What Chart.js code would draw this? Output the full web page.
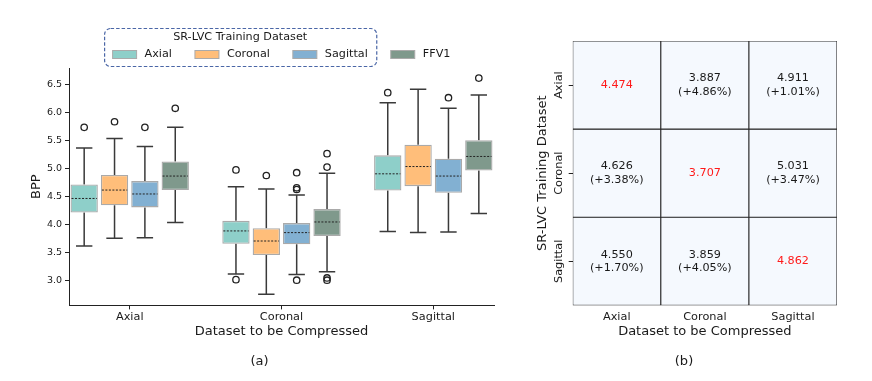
<!DOCTYPE html>
<html>
<head>
<meta charset="utf-8">
<script src="https://cdn.jsdelivr.net/npm/chart.js@4.4.1/dist/chart.umd.min.js"></script>
<style>
  body { margin: 0; background: #fff; }
  #left { position: absolute; left: 0; top: 0; }
  #right { position: absolute; left: 520px; top: 0; }
</style>
</head>
<body>
<canvas id="left" width="520" height="381"></canvas>
<canvas id="right" width="352" height="381"></canvas>
<script>
// (a) box plots: compressed dataset on x, one box per training dataset
const groups = ['Axial', 'Coronal', 'Sagittal'];
const series = ['Axial', 'Coronal', 'Sagittal', 'FFV1'];
const dodge = [-0.3, -0.1, 0.1, 0.3];
const whiskLo = [[3.62, 3.12, 3.88], [3.76, 2.76, 3.86], [3.77, 3.11, 3.87], [4.04, 3.16, 4.20]];
const q1      = [[4.22, 3.66, 4.61], [4.35, 3.46, 4.69], [4.31, 3.65, 4.57], [4.62, 3.80, 4.97]];
const median  = [[4.47, 3.89, 4.91], [4.62, 3.71, 5.04], [4.55, 3.86, 4.87], [4.87, 4.05, 5.22]];
const q3      = [[4.72, 4.07, 5.24], [4.89, 3.94, 5.43], [4.78, 4.03, 5.18], [5.13, 4.28, 5.51]];
const whiskHi = [[5.37, 4.68, 6.18], [5.54, 4.64, 6.42], [5.40, 4.53, 6.08], [5.74, 4.92, 6.32]];
const outliers = [
  [[5.74], [4.98, 3.02], [6.36]],
  [[5.84], [4.88], []],
  [[5.74], [4.93, 4.66, 4.63, 3.01], [6.27]],
  [[6.08], [5.27, 5.03, 3.05, 3.01], [6.62]]
];
const yTicks = [3.0, 3.5, 4.0, 4.5, 5.0, 5.5, 6.0, 6.5];
const boxColors = ['#8ecfc9', '#ffbe7a', '#82b0d2', '#7f998c'];

// (b) mean BPP table: rows = training dataset, cols = compressed dataset
const trainSets = ['Axial', 'Coronal', 'Sagittal'];
const bppMatrix = [[4.474, 3.887, 4.911], [4.626, 3.707, 5.031], [4.550, 3.859, 4.862]];
const gainMatrix = [[null, 4.86, 1.01], [3.38, null, 3.47], [1.70, 4.05, null]];

Chart.defaults.font.family = "'DejaVu Sans', sans-serif";
Chart.defaults.color = '#1a1a1a';

const boxParts = {
  id: 'boxParts',
  beforeDatasetsDraw(chart) {
    const ctx = chart.ctx, y = chart.scales.y;
    ctx.save();
    ctx.strokeStyle = '#3a3a3a';
    ctx.lineWidth = 1.5;
    series.forEach((s, si) => {
      chart.getDatasetMeta(si).data.forEach((bar, gi) => {
        const half = bar.width * 0.3;
        const yHi = y.getPixelForValue(whiskHi[si][gi]);
        const yLo = y.getPixelForValue(whiskLo[si][gi]);
        ctx.beginPath();
        ctx.moveTo(bar.x, y.getPixelForValue(q3[si][gi]));
        ctx.lineTo(bar.x, yHi);
        ctx.moveTo(bar.x - half, yHi);
        ctx.lineTo(bar.x + half, yHi);
        ctx.moveTo(bar.x, y.getPixelForValue(q1[si][gi]));
        ctx.lineTo(bar.x, yLo);
        ctx.moveTo(bar.x - half, yLo);
        ctx.lineTo(bar.x + half, yLo);
        ctx.stroke();
      });
    });
    ctx.restore();
  },
  afterDatasetsDraw(chart) {
    const ctx = chart.ctx, y = chart.scales.y;
    ctx.save();
    ctx.strokeStyle = '#222';
    ctx.lineWidth = 1;
    ctx.setLineDash([2, 1.5]);
    series.forEach((s, si) => {
      chart.getDatasetMeta(si).data.forEach((bar, gi) => {
        const ym = y.getPixelForValue(median[si][gi]);
        ctx.beginPath();
        ctx.moveTo(bar.x - bar.width / 2 + 1, ym);
        ctx.lineTo(bar.x + bar.width / 2 - 1, ym);
        ctx.stroke();
      });
    });
    ctx.restore();
  }
};

const boxLegend = {
  id: 'boxLegend',
  afterDraw(chart) {
    const ctx = chart.ctx;
    const sets = chart.data.datasets.filter(d => d.type !== 'scatter');
    const sw = 24, gap = 8, space = 23, yItem = 54.5, yTitle = 37.5;
    ctx.save();
    ctx.font = "11.2px 'DejaVu Sans'";
    const widths = sets.map(d => sw + gap + ctx.measureText(d.label).width);
    const total = widths.reduce((a, b) => a + b, 0) + space * (sets.length - 1);
    let x = (chart.chartArea.left + chart.chartArea.right) / 2 - total / 2;
    const starts = [];
    sets.forEach((d, i) => {
      starts.push(x);
      ctx.fillStyle = d.backgroundColor;
      ctx.fillRect(x, yItem - 4, sw, 8);
      ctx.strokeStyle = '#aaaaaa';
      ctx.lineWidth = 1;
      ctx.strokeRect(x, yItem - 4, sw, 8);
      ctx.fillStyle = '#1a1a1a';
      ctx.textAlign = 'left';
      ctx.textBaseline = 'middle';
      ctx.fillText(d.label, x + sw + gap, yItem);
      x += widths[i] + space;
    });
    const bx0 = starts[0] - 8;
    const bx1 = starts[2] + widths[2] + 9;
    ctx.textAlign = 'center';
    ctx.fillText('SR-LVC Training Dataset', (starts[0] + starts[2] + widths[2]) / 2, yTitle);
    ctx.strokeStyle = '#4a66a6';
    ctx.lineWidth = 1.2;
    ctx.setLineDash([3.5, 2]);
    ctx.beginPath();
    ctx.roundRect(bx0, 28.5, bx1 - bx0, 38, 6);
    ctx.stroke();
    ctx.restore();
  }
};

const outlierPoints = [];
series.forEach((s, si) => groups.forEach((g, gi) => {
  outliers[si][gi].forEach(v => outlierPoints.push({ x: gi + dodge[si], y: v }));
}));

new Chart(document.getElementById('left'), {
  type: 'bar',
  data: {
    datasets: series.map((s, si) => ({
      label: s,
      data: groups.map((g, gi) => ({ x: gi + dodge[si], y: [q1[si][gi], q3[si][gi]] })),
      backgroundColor: boxColors[si],
      borderColor: '#aaaaaa',
      borderWidth: 1.3,
      borderSkipped: false,
      grouped: false,
      barPercentage: 0.9,
      categoryPercentage: 1
    })).concat([{
      type: 'scatter',
      label: 'outliers',
      data: outlierPoints,
      pointStyle: 'circle',
      pointRadius: 3.2,
      pointBorderWidth: 1.3,
      borderColor: '#222',
      backgroundColor: 'rgba(255,255,255,0)'
    }])
  },
  options: {
    responsive: false,
    animation: false,
    layout: { padding: { left: 25, top: 68, right: 26, bottom: 2 } },
    plugins: {
      legend: { display: false },
      tooltip: { enabled: false },
      title: { display: true, text: '(a)', position: 'bottom', font: { size: 13, weight: 'normal' }, padding: 10 }
    },
    scales: {
      x: {
        type: 'linear', min: -0.4, max: 2.4, offset: false,
        afterBuildTicks: s => { s.ticks = groups.map((g, i) => ({ value: i })); },
        afterFit: s => { s.height = 38; },
        ticks: { callback: v => groups[v], font: { size: 11.3 }, padding: 1, autoSkip: false, maxRotation: 0 },
        grid: { display: true, offset: false, drawOnChartArea: false, drawTicks: true, tickLength: 4, color: '#222' },
        border: { display: true, color: '#222', width: 1 },
        title: { display: true, text: 'Dataset to be Compressed', font: { size: 13 }, padding: { top: 2, bottom: 4 } }
      },
      y: {
        min: 2.56, max: 6.8,
        afterBuildTicks: s => { s.ticks = yTicks.map(v => ({ value: v })); },
        afterFit: s => { s.width = 44; },
        ticks: { callback: v => v.toFixed(1), font: { size: 9.5 }, padding: 3 },
        grid: { display: true, drawOnChartArea: false, drawTicks: true, tickLength: 4, color: '#222' },
        border: { display: true, color: '#222', width: 1 },
        title: { display: true, text: 'BPP', font: { size: 13 }, padding: { top: 4, bottom: 4 } }
      }
    }
  },
  plugins: [boxParts, boxLegend]
});

const rowLabels = {
  id: 'rowLabels',
  afterDraw(chart) {
    const ctx = chart.ctx, y = chart.scales.y;
    ctx.save();
    ctx.font = "11.3px 'DejaVu Sans'";
    ctx.fillStyle = '#1a1a1a';
    ctx.textAlign = 'center';
    ctx.textBaseline = 'middle';
    y.ticks.forEach((t, i) => {
      ctx.save();
      ctx.translate(chart.chartArea.left - 13.5, y.getPixelForValue(t.value));
      ctx.rotate(-Math.PI / 2);
      ctx.fillText(trainSets[i], 0, 0);
      ctx.restore();
    });
    ctx.restore();
  }
};

const cellText = {
  id: 'cellText',
  afterDatasetsDraw(chart) {
    const ctx = chart.ctx;
    ctx.save();
    ctx.font = "11.2px 'DejaVu Sans'";
    ctx.textAlign = 'center';
    ctx.textBaseline = 'middle';
    bppMatrix.forEach((row, r) => {
      chart.getDatasetMeta(r).data.forEach((cell, c) => {
        const cy = (cell.y + cell.base) / 2;
        const gain = gainMatrix[r][c];
        if (gain === null) {
          ctx.fillStyle = '#ff1a1a';
          ctx.fillText(row[c].toFixed(3), cell.x, cy);
        } else {
          ctx.fillStyle = '#1a1a1a';
          ctx.fillText(row[c].toFixed(3), cell.x, cy - 6.7);
          ctx.fillText('(+' + gain.toFixed(2) + '%)', cell.x, cy + 6.7);
        }
      });
    });
    ctx.restore();
  }
};

new Chart(document.getElementById('right'), {
  type: 'bar',
  data: {
    labels: groups,
    datasets: trainSets.map((t, r) => ({
      label: t,
      data: groups.map(() => [r, r + 1]),
      backgroundColor: '#f5f9fe',
      borderColor: '#2a2a2a',
      borderWidth: 0.9,
      borderSkipped: false,
      grouped: false,
      barPercentage: 1,
      categoryPercentage: 1
    }))
  },
  options: {
    responsive: false,
    animation: false,
    layout: { padding: { left: 11, top: 41, right: 35, bottom: 2 } },
    plugins: {
      legend: { display: false },
      tooltip: { enabled: false },
      title: { display: true, text: '(b)', position: 'bottom', font: { size: 13, weight: 'normal' }, padding: 10 }
    },
    scales: {
      x: {
        offset: true,
        grid: { display: false, drawTicks: false },
        border: { display: false },
        afterFit: s => { s.height = 38; },
        ticks: { font: { size: 11.3 }, padding: 5 },
        title: { display: true, text: 'Dataset to be Compressed', font: { size: 13 }, padding: { top: 2, bottom: 4 } }
      },
      y: {
        min: 0, max: 3, reverse: true,
        afterBuildTicks: s => { s.ticks = trainSets.map((t, i) => ({ value: i + 0.5 })); },
        afterFit: s => { s.width = 41.7; },
        ticks: { display: false },
        grid: { display: true, drawOnChartArea: false, drawTicks: true, tickLength: 4, color: '#222' },
        border: { display: false },
        title: { display: true, text: 'SR-LVC Training Dataset', font: { size: 13 }, padding: { top: 4, bottom: 4 } }
      }
    }
  },
  plugins: [cellText, rowLabels]
});
</script>
</body>
</html>
